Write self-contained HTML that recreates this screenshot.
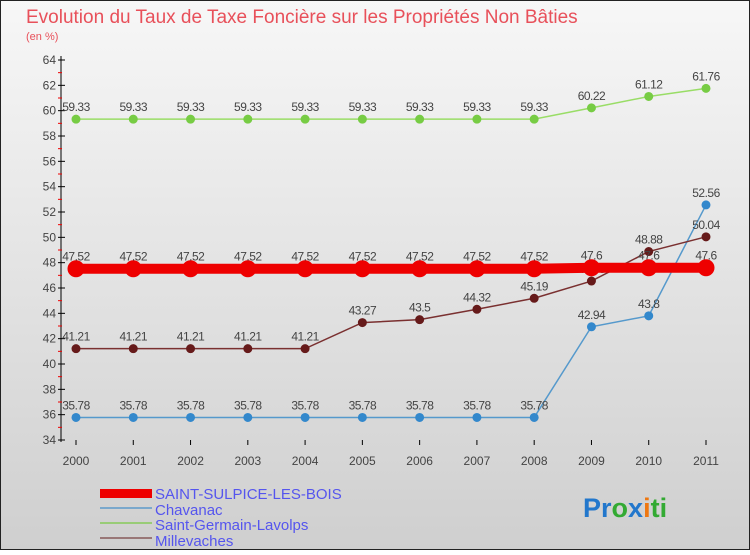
<!DOCTYPE html>
<html><head><meta charset="utf-8"><style>
html,body{margin:0;padding:0}
body{width:750px;height:550px;overflow:hidden;font-family:"Liberation Sans",sans-serif}
</style></head><body>
<svg id="chart" width="750" height="550" xmlns="http://www.w3.org/2000/svg">
<defs><linearGradient id="bg" x1="0" y1="0" x2="0" y2="1"><stop offset="0" stop-color="#f7f7f7"/><stop offset="1" stop-color="#cfcfcf"/></linearGradient></defs>
<rect x="0.5" y="0.5" width="749" height="549" fill="url(#bg)" stroke="#222"/>
<text x="26" y="23" font-size="19" fill="#e8505a">Evolution du Taux de Taxe Foncière sur les Propriétés Non Bâties</text>
<text x="26" y="40" font-size="11" fill="#e8505a">(en %)</text>
<g id="axes"></g><g id="series"></g>
<g>
<rect x="100" y="489" width="52" height="9" fill="#ee0000"/>
<text x="155" y="499" font-size="15" fill="#5555ee">SAINT-SULPICE-LES-BOIS</text>
<line x1="100" y1="508" x2="152" y2="508" stroke="#7aa8cc" stroke-width="2"/>
<text x="155" y="515" font-size="15" fill="#5555ee">Chavanac</text>
<line x1="100" y1="523" x2="152" y2="523" stroke="#99cc77" stroke-width="2"/>
<text x="155" y="530" font-size="15" fill="#5555ee">Saint-Germain-Lavolps</text>
<line x1="100" y1="538" x2="152" y2="538" stroke="#997777" stroke-width="2"/>
<text x="155" y="546" font-size="15" fill="#5555ee">Millevaches</text>
</g>
<text x="583" y="517" font-size="27" font-weight="bold"><tspan fill="#2277cc">Pr</tspan><tspan fill="#33aa33">o</tspan><tspan fill="#2277cc">x</tspan><tspan fill="#ee7711">i</tspan><tspan fill="#33aa33">ti</tspan></text>
</svg>
<script>
const years=[2000,2001,2002,2003,2004,2005,2006,2007,2008,2009,2010,2011];
const yTicks=[34,36,38,40,42,44,46,48,50,52,54,56,58,60,62,64];
const saintSulpice=[47.52,47.52,47.52,47.52,47.52,47.52,47.52,47.52,47.52,47.6,47.6,47.6];
const chavanac=[35.78,35.78,35.78,35.78,35.78,35.78,35.78,35.78,35.78,42.94,43.8,52.56];
const saintGermain=[59.33,59.33,59.33,59.33,59.33,59.33,59.33,59.33,59.33,60.22,61.12,61.76];
const millevaches=[41.21,41.21,41.21,41.21,41.21,43.27,43.5,44.32,45.19,46.55,48.88,50.04];
const NS="http://www.w3.org/2000/svg";
const x=i=>76+i*(630/11);
const y=v=>440-(v-34)*(380/30);
function mk(tag,attrs,parent){const e=document.createElementNS(NS,tag);for(const k in attrs)e.setAttribute(k,attrs[k]);parent.appendChild(e);return e;}
const ax=document.getElementById('axes');
let l=mk('line',{x1:61,y1:56,x2:61,y2:442,stroke:'#000','stroke-width':1},ax);


yTicks.forEach(t=>{
 mk('line',{x1:58,y1:y(t),x2:65,y2:y(t),stroke:'#000'},ax);
 if(t<64)mk('line',{x1:58,y1:y(t+1),x2:62,y2:y(t+1),stroke:'#e00'},ax);
 const tx=mk('text',{x:56,y:y(t)+4,'font-size':12,'text-anchor':'end',fill:'#444'},ax);
 tx.textContent=t;
 
 
});
years.forEach((yr,i)=>{
 mk('line',{x1:x(i),y1:440,x2:x(i),y2:445,stroke:'#000'},ax);
 const tx=mk('text',{x:x(i),y:465,'font-size':12,'text-anchor':'middle',fill:'#444'},ax);
 tx.textContent=yr;
 
 
});
const sg=document.getElementById('series');
function draw(vals,name,lc,pc,lw,r){
 const g=mk('g',{},sg);
 
 
 const p=mk('polyline',{points:vals.map((v,i)=>x(i)+','+y(v)).join(' '),fill:'none',stroke:lc,'stroke-width':lw},g);
 
 
 vals.forEach((v,i)=>{
  const c=mk('circle',{cx:x(i),cy:y(v),r:r,fill:pc,stroke:pc},g);
  
  
  const t=mk('text',{x:x(i),y:y(v)-8,'font-size':12,'text-anchor':'middle',fill:'#444','letter-spacing':'-0.5'},g);
  t.textContent=v;
  
  
 });
}
draw(saintGermain,'saint-germain','#99dd66','#77cc44',1.5,4);
draw(chavanac,'chavanac','#5599cc','#3388cc',1.5,4);
draw(millevaches,'millevaches','#7a3030','#661a1a',1.5,4);
draw(saintSulpice,'saint-sulpice','#ee0000','#ee0000',10,8);
</script>
</body></html>
